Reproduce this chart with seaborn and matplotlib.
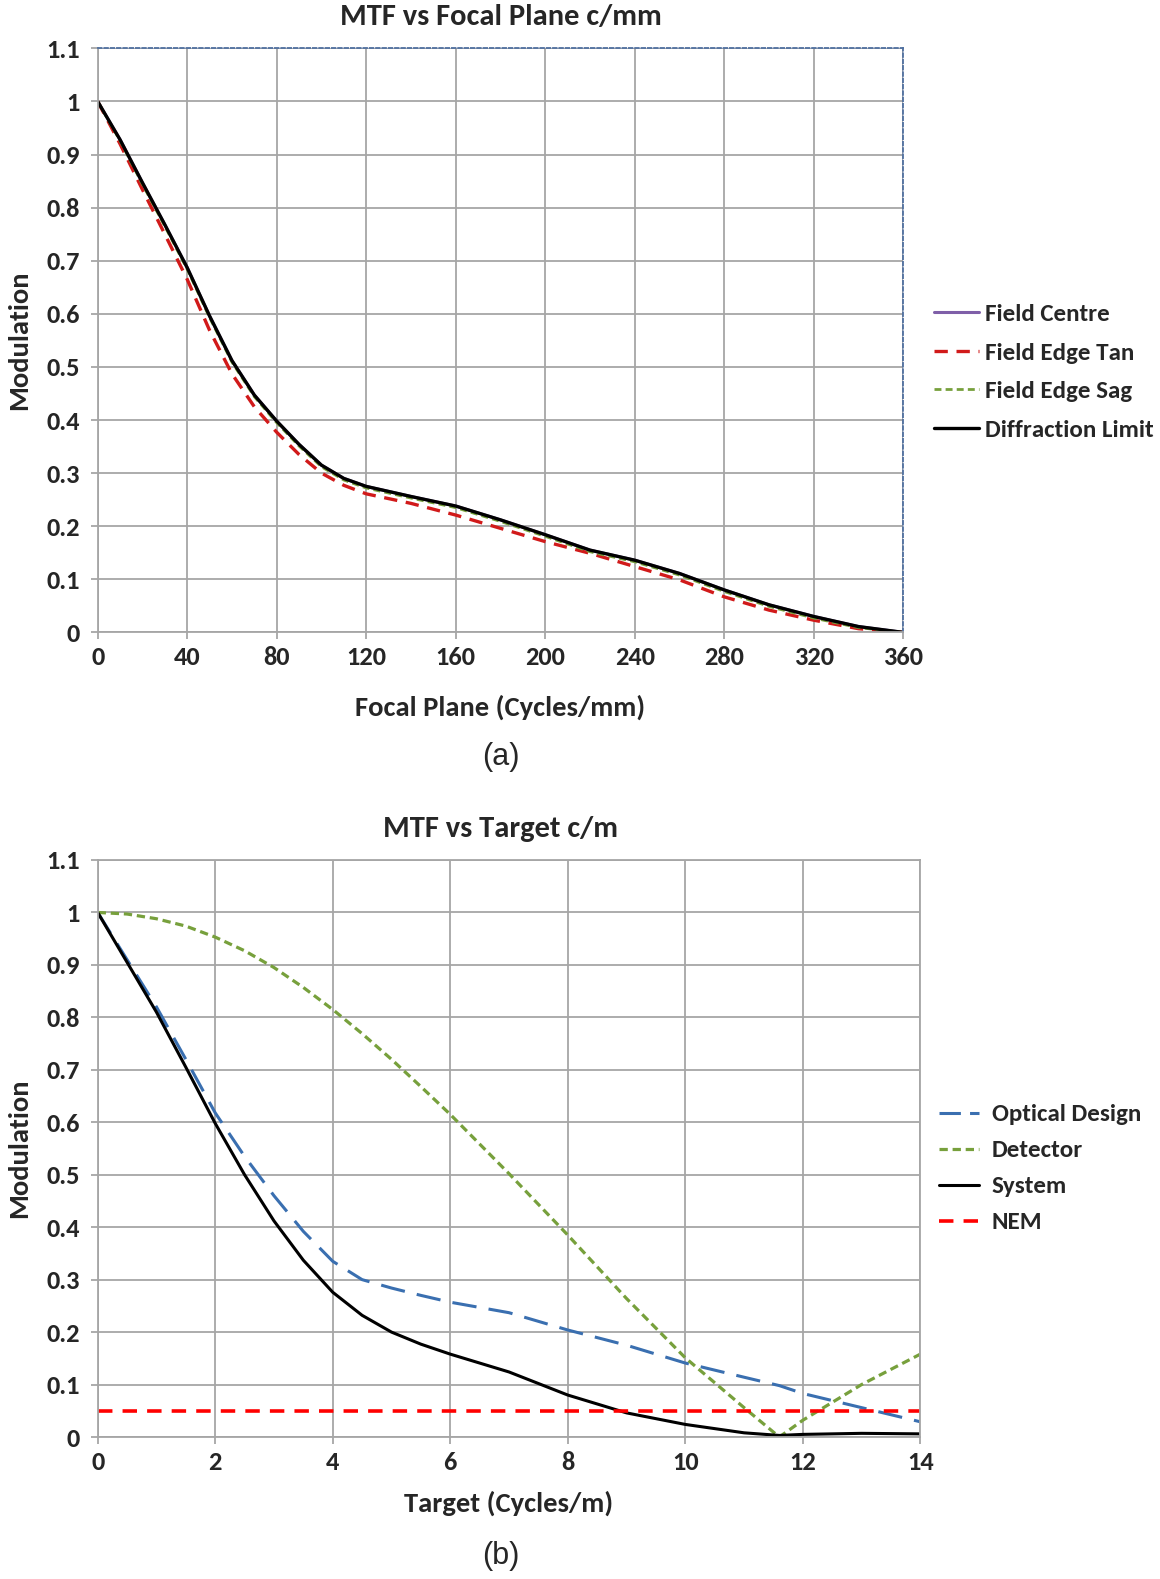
import matplotlib
matplotlib.use("Agg")
import matplotlib.pyplot as plt
import seaborn as sns

# --- (a) MTF vs focal plane ---
focal_cpmm = [0, 10, 20, 30, 40, 50, 60, 70, 80, 90, 100, 110, 120, 140, 160, 180,
              200, 220, 240, 260, 280, 300, 320, 340, 360]
diffraction_limit = [1.0, 0.928, 0.847, 0.768, 0.687, 0.596, 0.512, 0.447, 0.398, 0.354,
                     0.315, 0.290, 0.275, 0.256, 0.238, 0.212, 0.184, 0.155, 0.136,
                     0.111, 0.080, 0.052, 0.030, 0.011, 0.0]
field_centre = diffraction_limit
field_edge_sag = [1.0, 0.926, 0.844, 0.765, 0.684, 0.593, 0.509, 0.444, 0.395, 0.351,
                  0.312, 0.287, 0.272, 0.253, 0.235, 0.209, 0.181, 0.152, 0.133,
                  0.108, 0.077, 0.049, 0.027, 0.009, 0.0]
field_edge_tan = [1.0, 0.92, 0.834, 0.75, 0.665, 0.569, 0.487, 0.425, 0.377, 0.335,
                  0.300, 0.277, 0.261, 0.243, 0.221, 0.196, 0.171, 0.149, 0.124,
                  0.099, 0.067, 0.042, 0.023, 0.007, 0.0]

# --- (b) MTF vs target ---
target_cpm = [0, 0.5, 1, 1.5, 2, 2.5, 3, 3.5, 4, 4.5, 5, 5.5, 6, 7, 8, 9, 10, 11, 11.6,
              12, 13, 14]
optical_design = [1.0, 0.91, 0.82, 0.72, 0.618, 0.535, 0.46, 0.392, 0.335, 0.30, 0.284,
                  0.27, 0.257, 0.237, 0.204, 0.175, 0.141, 0.114, 0.098, 0.083,
                  0.056, 0.029]
detector = [1.0, 0.997, 0.988, 0.974, 0.953, 0.927, 0.895, 0.857, 0.815, 0.769, 0.72,
            0.668, 0.615, 0.502, 0.385, 0.264, 0.151, 0.056, 0.0, 0.032, 0.10, 0.158]
system = [1.0, 0.905, 0.81, 0.705, 0.598, 0.50, 0.412, 0.337, 0.276, 0.232, 0.200,
          0.177, 0.158, 0.124, 0.08, 0.046, 0.024, 0.008, 0.003, 0.005, 0.007, 0.006]
nem = [0.05] * len(target_cpm)

sns.set_style("white")
FAM = ['Carlito', 'DejaVu Sans']
plt.rcParams['font.family'] = FAM

W, H = 1152, 1568
fig = plt.figure(figsize=(11.6, 15.79), dpi=100)
ax1 = fig.add_axes([97 / W, 1 - 628 / H, 800 / W, 580 / H])
ax2 = fig.add_axes([97 / W, 1 - 1427 / H, 817 / W, 573 / H])

grid_c = '#a6a6a6'
bold = dict(family=FAM, weight='bold')


def style_axes(ax, xmax, xstep):
    ax.set_xlim(0, xmax)
    ax.set_ylim(0, 1.1)
    ax.set_xticks(range(0, xmax + 1, xstep))
    ax.set_yticks([i / 10 for i in range(12)])
    ax.set_xticklabels([str(v) for v in range(0, xmax + 1, xstep)], **bold, size=19)
    ax.set_yticklabels(['0', '0.1', '0.2', '0.3', '0.4', '0.5', '0.6', '0.7', '0.8',
                        '0.9', '1', '1.1'], **bold, size=19)
    ax.grid(True, color=grid_c, linewidth=1.3)
    ax.set_axisbelow(True)
    for s in ax.spines.values():
        s.set_color(grid_c)
        s.set_linewidth(1.3)
    ax.tick_params(axis='both', which='major', length=5, width=1.3, color=grid_c,
                   direction='out', bottom=True, left=True)
    ax.tick_params(axis='x', pad=5)
    ax.tick_params(axis='y', pad=8)


# top panel
sns.lineplot(x=focal_cpmm, y=field_centre, ax=ax1, color='#7f5fa8', linewidth=2.2,
             label='Field Centre')
sns.lineplot(x=focal_cpmm, y=field_edge_tan, ax=ax1, color='#d11a1a', linewidth=2.4,
             linestyle=(0, (4, 2.6)), label='Field Edge Tan')
sns.lineplot(x=focal_cpmm, y=field_edge_sag, ax=ax1, color='#77a03c', linewidth=2.0,
             linestyle=(0, (2.5, 1.5)), label='Field Edge Sag')
sns.lineplot(x=focal_cpmm, y=diffraction_limit, ax=ax1, color='black', linewidth=2.4,
             label='Diffraction Limit')
style_axes(ax1, 360, 40)
ax1.spines['top'].set_color('#4f6f9f')
ax1.spines['top'].set_linestyle((0, (2, 1.5)))
ax1.spines['right'].set_color('#4f6f9f')
ax1.spines['right'].set_linestyle((0, (2, 1.5)))
ax1.set_xlabel('Focal Plane (Cycles/mm)', size=20.5, labelpad=18, **bold)
ax1.set_ylabel('Modulation', size=20.5, labelpad=11, **bold)
ax1.legend(loc='center left', bbox_to_anchor=(928 / W, 1 - 369.5 / H),
           bbox_transform=fig.transFigure, frameon=False,
           handlelength=1.8, handletextpad=0.22, labelspacing=0.68,
           borderpad=0, borderaxespad=0,
           prop={'family': FAM, 'weight': 'bold', 'size': 18})

# bottom panel
sns.lineplot(x=target_cpm, y=optical_design, ax=ax2, color='#3a6fb0', linewidth=2.2,
             linestyle=(0, (8, 4)), label='Optical Design')
sns.lineplot(x=target_cpm, y=detector, ax=ax2, color='#77a03c', linewidth=2.3,
             linestyle=(0, (2.6, 1.5)), label='Detector')
sns.lineplot(x=target_cpm, y=system, ax=ax2, color='black', linewidth=2.2,
             label='System')
sns.lineplot(x=target_cpm, y=nem, ax=ax2, color='#ff0000', linewidth=2.6,
             linestyle=(0, (4, 2.8)), label='NEM')
style_axes(ax2, 14, 2)
ax2.set_xlabel('Target (Cycles/m)', size=20.5, labelpad=12, **bold)
ax2.set_ylabel('Modulation', size=20.5, labelpad=11, **bold)
leg2 = ax2.legend(loc='center left', bbox_to_anchor=(933 / W, 1 - 1160.5 / H),
                  bbox_transform=fig.transFigure, frameon=False,
                  handlelength=1.6, handletextpad=0.5, labelspacing=0.58,
                  borderpad=0, borderaxespad=0,
                  prop={'family': FAM, 'weight': 'bold', 'size': 18})
# the long-dash key shows as a single dash in the original
leg2.get_lines()[0].set_linestyle((0, (7, 3)))

fig.text(497 / W, 1 - 17 / H, 'MTF vs Focal Plane c/mm', ha='center', va='center',
         size=22, **bold)
fig.text(497 / W, 1 - 823 / H, 'MTF vs Target c/m', ha='center', va='center',
         size=22, **bold)
fig.text(497 / W, 1 - 752 / H, '(a)', ha='center', va='center', fontsize=22,
         fontweight='normal', family=['Liberation Sans', 'DejaVu Sans'])
fig.text(497 / W, 1 - 1545 / H, '(b)', ha='center', va='center', fontsize=22,
         fontweight='normal', family=['Liberation Sans', 'DejaVu Sans'])

fig.savefig('out.png', dpi=100, facecolor='white')
